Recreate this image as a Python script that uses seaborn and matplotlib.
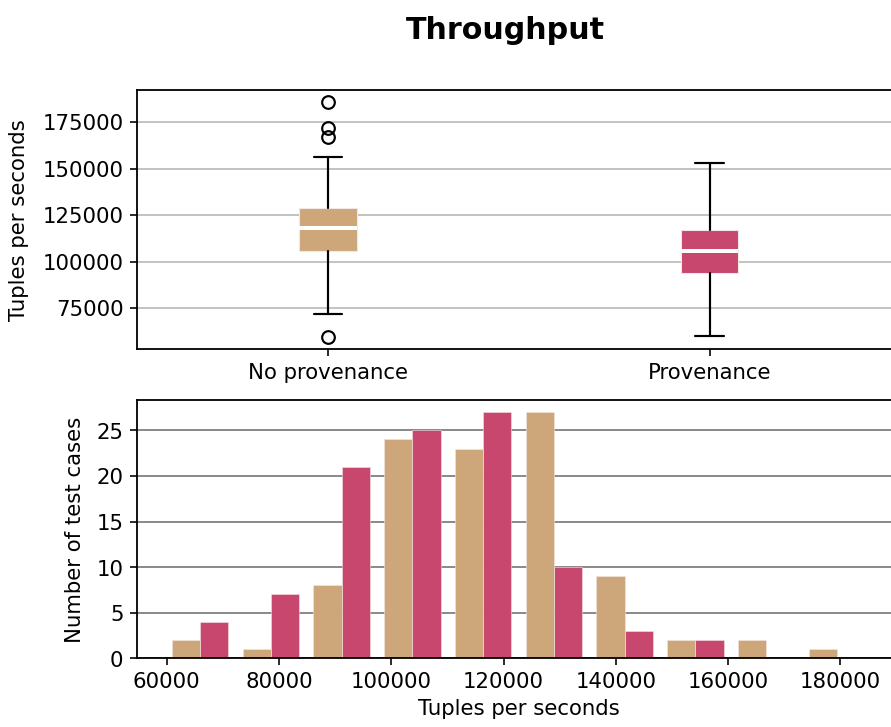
import numpy as np
import pandas as pd
import matplotlib
matplotlib.use("Agg")
import matplotlib.pyplot as plt
import seaborn as sns

# ---------------- data ----------------
groups = ["No provenance", "Provenance"]
colors = ["#CDA77A", "#C8476E"]

# box statistics
box_q1 = [105900, 94100]
box_med = [118200, 105600]
box_q3 = [128600, 116800]
box_whislo = [71900, 60100]
box_whishi = [156300, 153100]
fliers_noprov = [186000, 171500, 166800, 59500]
fliers_prov = []

# histogram (10 bins, counts per series)
bin_edges = [59630, 72236, 84842, 97448, 110054, 122660,
             135266, 147872, 160478, 173084, 185690]
counts_noprov = [2, 1, 8, 24, 23, 27, 9, 2, 2, 1]
counts_prov = [4, 7, 21, 25, 27, 10, 3, 2, 0, 0]
hist_xticks = [60000, 80000, 100000, 120000, 140000, 160000, 180000]

# ---------------- figure ----------------
sns.set_style("white")
plt.rcParams["font.family"] = ["DejaVu Sans"]
plt.rcParams["font.size"] = 11.8
for k in ["text.color", "axes.labelcolor", "xtick.color", "ytick.color"]:
    plt.rcParams[k] = "black"

DPI = 130
fig = plt.figure(figsize=(891.4 / DPI, 727.4 / DPI), dpi=DPI)

W, H = 891.0, 727.0
left_px, right_px = 137.0, 900.0
ax1 = fig.add_axes([left_px / W, (H - 349) / H, (right_px - left_px) / W, 258.3 / H])
ax2 = fig.add_axes([left_px / W, (H - 658.3) / H, (right_px - left_px) / W, 258.3 / H])

# ---------- top: box plot ----------
stats = []
for i, g in enumerate(groups):
    stats.append(dict(label=g, q1=box_q1[i], med=box_med[i], q3=box_q3[i],
                      whislo=box_whislo[i], whishi=box_whishi[i],
                      fliers=[fliers_noprov, fliers_prov][i]))
bp = ax1.bxp(stats, positions=[1, 2], widths=0.15, patch_artist=True,
             medianprops=dict(color="white", linewidth=2.2),
             whiskerprops=dict(color="black", linewidth=1.2),
             capprops=dict(color="black", linewidth=1.2),
             flierprops=dict(marker="o", markerfacecolor="none",
                             markeredgecolor="black", markersize=7,
                             markeredgewidth=1.2),
             boxprops=dict(linewidth=0.6))
for patch, c in zip(bp["boxes"], colors):
    patch.set_facecolor(c)
    patch.set_edgecolor("#f3e6e6")
ax1.set_xlim(0.5, 2.5)
ax1.set_ylim(53120, 192000)
ax1.set_yticks([75000, 100000, 125000, 150000, 175000])
ax1.yaxis.grid(True, color="#c4c4c4", linewidth=1.1)
ax1.set_axisbelow(True)
ax1.set_ylabel("Tuples per seconds")
ax1.yaxis.set_label_coords((29 - left_px) / (right_px - left_px), 0.5)
ax1.tick_params(axis="both", direction="out", length=4, width=0.9,
                left=True, bottom=True)

# ---------- bottom: histogram ----------
centers = [(bin_edges[i] + bin_edges[i + 1]) / 2 for i in range(len(bin_edges) - 1)]
df = pd.DataFrame({
    "value": centers * 2,
    "count": counts_noprov + counts_prov,
    "series": [groups[0]] * len(centers) + [groups[1]] * len(centers),
})
sns.histplot(data=df, x="value", weights="count", hue="series",
             hue_order=groups, palette=colors, bins=bin_edges,
             multiple="dodge", shrink=0.8, alpha=1, edgecolor="#f3e6e6",
             linewidth=0.3, legend=False, ax=ax2)
ax2.set_xlim(54700, 190700)
ax2.set_ylim(0, 28.35)
ax2.set_xticks(hist_xticks)
ax2.set_yticks([0, 5, 10, 15, 20, 25])
ax2.yaxis.grid(True, color="#8c8c8c", linewidth=1.1)
ax2.set_axisbelow(True)
ax2.set_xlabel("Tuples per seconds")
ax2.set_ylabel("Number of test cases")
ax2.yaxis.set_label_coords((85 - left_px) / (right_px - left_px), 0.5)
ax2.tick_params(axis="both", direction="out", length=4, width=0.9,
                left=True, bottom=True)

for ax in (ax1, ax2):
    for s in ax.spines.values():
        s.set_color("black")
        s.set_linewidth(1.0)

fig.suptitle("Throughput", x=505 / W, y=1 - 30 / H, va="center",
             fontsize=16.7, fontweight="bold")

fig.savefig("out.png", dpi=DPI)
